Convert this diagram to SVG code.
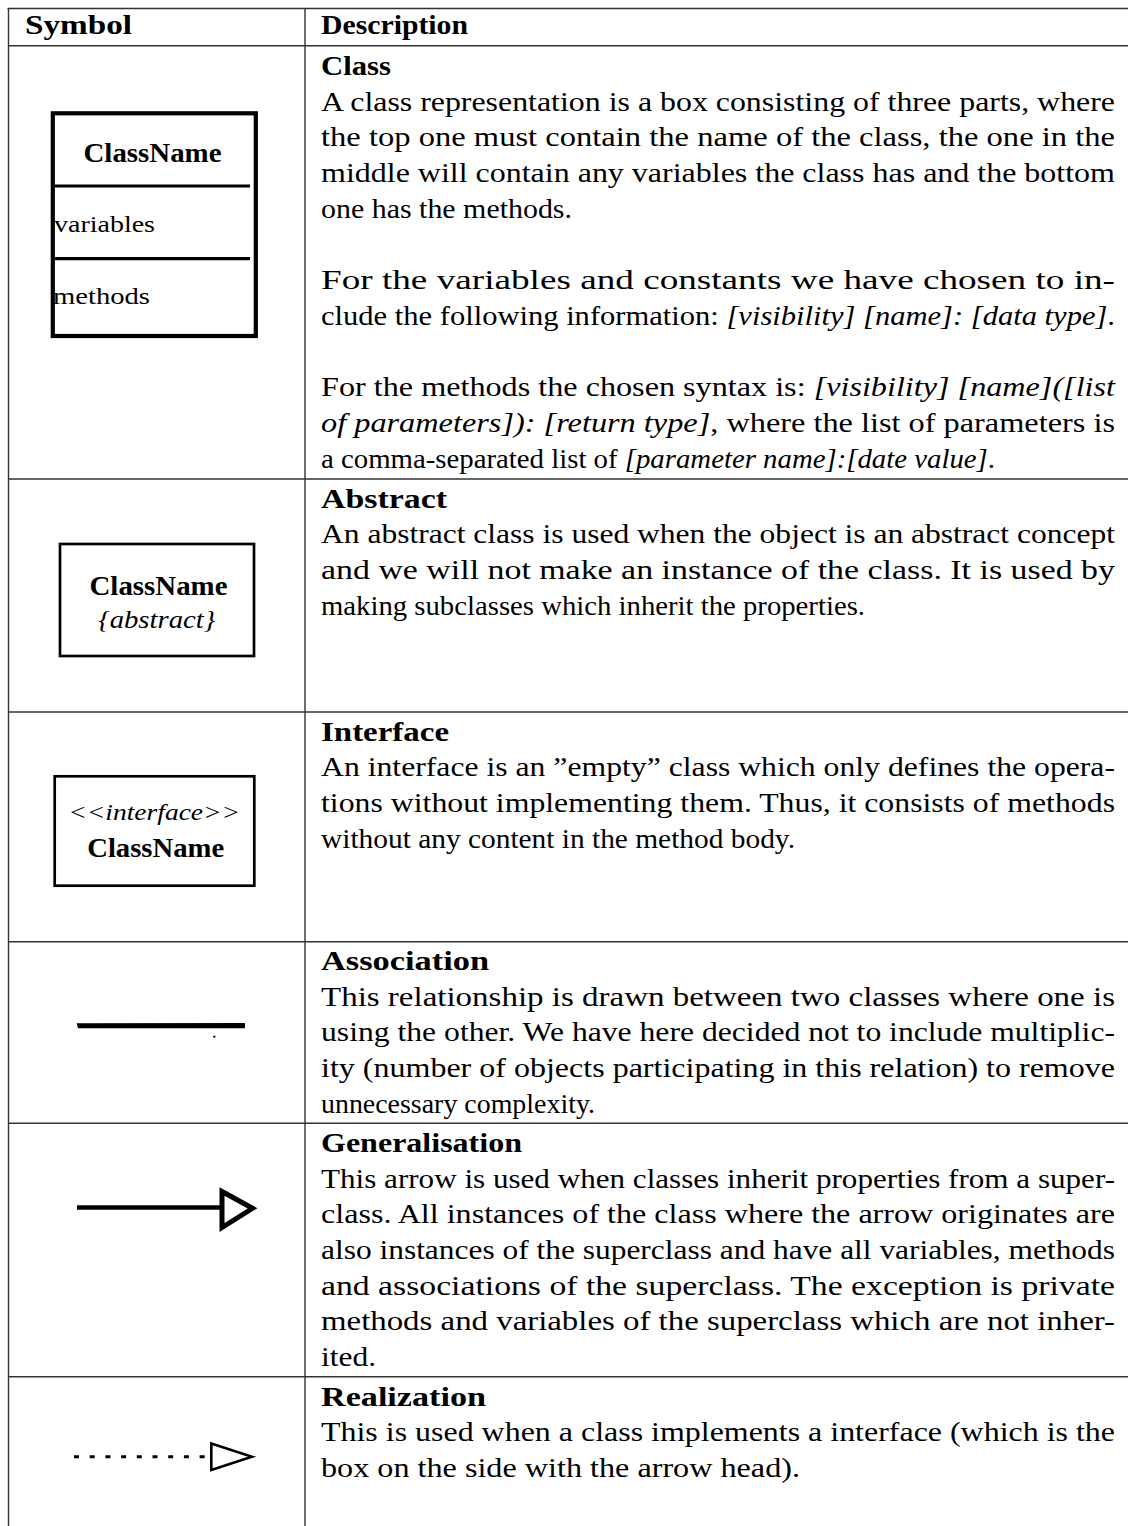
<svg xmlns="http://www.w3.org/2000/svg" width="1128" height="1526" viewBox="0 0 1128 1526">
  <style>
    .t { font-family: "Liberation Serif", "Times New Roman", serif; font-size: 28px; fill: #000; }
    .b { font-weight: bold; }
    .i { font-style: italic; }
    .grid line { stroke: #333; stroke-width: 1.4; }
    .sym { font-family: "Liberation Serif", "Times New Roman", serif; fill: #000; }
    .box { fill: #fff; stroke: #000; }
  </style>
  <rect x="0" y="0" width="1128" height="1526" fill="#fff"/>

  <!-- table rules -->
  <g id="grid" class="grid">
    <line x1="7.5" y1="8.5" x2="1128" y2="8.5"/>
    <line x1="8.5" y1="45.7" x2="1128" y2="45.7"/>
    <line x1="8.5" y1="479" x2="1128" y2="479"/>
    <line x1="8.5" y1="712" x2="1128" y2="712"/>
    <line x1="8.5" y1="941.7" x2="1128" y2="941.7"/>
    <line x1="8.5" y1="1123.3" x2="1128" y2="1123.3"/>
    <line x1="8.5" y1="1376.8" x2="1128" y2="1376.8"/>
    <line x1="8.5" y1="8" x2="8.5" y2="1526"/>
    <line x1="305" y1="8" x2="305" y2="1526"/>
  </g>

  <!-- header -->
  <g id="header">
    <text class="t b" x="25" y="34" textLength="107" lengthAdjust="spacingAndGlyphs">Symbol</text>
    <text class="t b" x="321" y="34" textLength="147" lengthAdjust="spacingAndGlyphs">Description</text>
  </g>

  <!-- Class -->
  <g id="row-class">
    <g id="class-symbol">
      <rect class="box" x="52.8" y="113.3" width="203" height="222.7" stroke-width="4.2"/>
      <line x1="55" y1="186" x2="250" y2="186" stroke="#000" stroke-width="3.2"/>
      <line x1="55" y1="258.7" x2="250" y2="258.7" stroke="#000" stroke-width="3.2"/>
      <text class="sym" x="152.5" y="161.7" font-size="27" font-weight="bold" text-anchor="middle" textLength="138" lengthAdjust="spacingAndGlyphs">ClassName</text>
      <text class="sym" x="54" y="231.7" font-size="24" textLength="101" lengthAdjust="spacingAndGlyphs">variables</text>
      <text class="sym" x="53" y="304" font-size="24" textLength="97" lengthAdjust="spacingAndGlyphs">methods</text>
    </g>
    <text class="t b" x="321" y="75" textLength="70" lengthAdjust="spacingAndGlyphs">Class</text>
    <text class="t" x="321" y="110.7" textLength="794" lengthAdjust="spacingAndGlyphs">A class representation is a box consisting of three parts, where</text>
    <text class="t" x="321" y="146.4" textLength="794" lengthAdjust="spacingAndGlyphs">the top one must contain the name of the class, the one in the</text>
    <text class="t" x="321" y="182.1" textLength="794" lengthAdjust="spacingAndGlyphs">middle will contain any variables the class has and the bottom</text>
    <text class="t" x="321" y="217.8" textLength="251" lengthAdjust="spacingAndGlyphs">one has the methods.</text>
    <text class="t" x="321" y="289.2" textLength="794" lengthAdjust="spacingAndGlyphs">For the variables and constants we have chosen to in-</text>
    <text class="t" x="321" y="324.9" textLength="794" lengthAdjust="spacingAndGlyphs">clude the following information: <tspan class="i">[visibility] [name]: [data type]</tspan>.</text>
    <text class="t" x="321" y="396.3" textLength="794" lengthAdjust="spacingAndGlyphs">For the methods the chosen syntax is: <tspan class="i">[visibility] [name]([list</tspan></text>
    <text class="t" x="321" y="432" textLength="794" lengthAdjust="spacingAndGlyphs"><tspan class="i">of parameters]): [return type]</tspan>, where the list of parameters is</text>
    <text class="t" x="321" y="467.7" textLength="674" lengthAdjust="spacingAndGlyphs">a comma-separated list of <tspan class="i">[parameter name]:[date value]</tspan>.</text>
  </g>

  <!-- Abstract -->
  <g id="row-abstract">
    <g id="abstract-symbol">
      <rect class="box" x="60" y="544" width="194" height="112" stroke-width="2.7"/>
      <text class="sym" x="158.5" y="595" font-size="27" font-weight="bold" text-anchor="middle" textLength="138" lengthAdjust="spacingAndGlyphs">ClassName</text>
      <text class="sym" x="156.7" y="628" font-size="25" font-style="italic" text-anchor="middle" textLength="117" lengthAdjust="spacingAndGlyphs">{abstract}</text>
    </g>
    <text class="t b" x="321" y="507.5" textLength="126" lengthAdjust="spacingAndGlyphs">Abstract</text>
    <text class="t" x="321" y="543.2" textLength="794" lengthAdjust="spacingAndGlyphs">An abstract class is used when the object is an abstract concept</text>
    <text class="t" x="321" y="578.9" textLength="794" lengthAdjust="spacingAndGlyphs">and we will not make an instance of the class. It is used by</text>
    <text class="t" x="321" y="614.6" textLength="544" lengthAdjust="spacingAndGlyphs">making subclasses which inherit the properties.</text>
  </g>

  <!-- Interface -->
  <g id="row-interface">
    <g id="interface-symbol">
      <rect class="box" x="54.7" y="776.3" width="199.6" height="109.4" stroke-width="2.7"/>
      <text class="sym" x="154.2" y="820" font-size="23" font-style="italic" text-anchor="middle" textLength="172" lengthAdjust="spacingAndGlyphs">&lt;&lt;interface&gt;&gt;</text>
      <text class="sym" x="155.7" y="857.3" font-size="27" font-weight="bold" text-anchor="middle" textLength="137" lengthAdjust="spacingAndGlyphs">ClassName</text>
    </g>
    <text class="t b" x="321" y="740.5" textLength="128" lengthAdjust="spacingAndGlyphs">Interface</text>
    <text class="t" x="321" y="776.2" textLength="794" lengthAdjust="spacingAndGlyphs">An interface is an ”empty” class which only defines the opera-</text>
    <text class="t" x="321" y="811.9" textLength="794" lengthAdjust="spacingAndGlyphs">tions without implementing them. Thus, it consists of methods</text>
    <text class="t" x="321" y="847.6" textLength="474" lengthAdjust="spacingAndGlyphs">without any content in the method body.</text>
  </g>

  <!-- relationship symbols -->
  <g id="connectors">
    <g id="association-symbol">
      <path d="M76.7 1023.2 L245 1023 L245 1028.2 L78 1028.3 Z" fill="#000"/>
      <rect x="213.3" y="1035.7" width="2" height="2" fill="#000"/>
    </g>
    <g id="generalisation-symbol">
      <line x1="77" y1="1207.5" x2="222" y2="1207.5" stroke="#000" stroke-width="4.6"/>
      <polygon class="box" points="222,1191.5 252.5,1208.3 222,1227.5" stroke-width="5" stroke-linejoin="miter"/>
    </g>
    <g id="realization-symbol">
      <line x1="74" y1="1456.7" x2="206" y2="1456.7" stroke="#000" stroke-width="3" stroke-dasharray="5 10.7"/>
      <polygon class="box" points="211.3,1443.5 252,1456.7 211.3,1470" stroke-width="2.6"/>
    </g>
  </g>

  <!-- Association -->
  <g id="row-association">
    <text class="t b" x="321" y="970" textLength="168" lengthAdjust="spacingAndGlyphs">Association</text>
    <text class="t" x="321" y="1005.7" textLength="794" lengthAdjust="spacingAndGlyphs">This relationship is drawn between two classes where one is</text>
    <text class="t" x="321" y="1041.4" textLength="794" lengthAdjust="spacingAndGlyphs">using the other. We have here decided not to include multiplic-</text>
    <text class="t" x="321" y="1077.1" textLength="794" lengthAdjust="spacingAndGlyphs">ity (number of objects participating in this relation) to remove</text>
    <text class="t" x="321" y="1112.8" textLength="274" lengthAdjust="spacingAndGlyphs">unnecessary complexity.</text>
  </g>

  <!-- Generalisation -->
  <g id="row-generalisation">
    <text class="t b" x="321" y="1151.8" textLength="201" lengthAdjust="spacingAndGlyphs">Generalisation</text>
    <text class="t" x="321" y="1187.5" textLength="794" lengthAdjust="spacingAndGlyphs">This arrow is used when classes inherit properties from a super-</text>
    <text class="t" x="321" y="1223.2" textLength="794" lengthAdjust="spacingAndGlyphs">class. All instances of the class where the arrow originates are</text>
    <text class="t" x="321" y="1258.9" textLength="794" lengthAdjust="spacingAndGlyphs">also instances of the superclass and have all variables, methods</text>
    <text class="t" x="321" y="1294.6" textLength="794" lengthAdjust="spacingAndGlyphs">and associations of the superclass.  The exception is private</text>
    <text class="t" x="321" y="1330.3" textLength="794" lengthAdjust="spacingAndGlyphs">methods and variables of the superclass which are not inher-</text>
    <text class="t" x="321" y="1366" textLength="55" lengthAdjust="spacingAndGlyphs">ited.</text>
  </g>

  <!-- Realization -->
  <g id="row-realization">
    <text class="t b" x="321" y="1405.5" textLength="165" lengthAdjust="spacingAndGlyphs">Realization</text>
    <text class="t" x="321" y="1441.2" textLength="794" lengthAdjust="spacingAndGlyphs">This is used when a class implements a interface (which is the</text>
    <text class="t" x="321" y="1476.9" textLength="479" lengthAdjust="spacingAndGlyphs">box on the side with the arrow head).</text>
  </g>
</svg>
